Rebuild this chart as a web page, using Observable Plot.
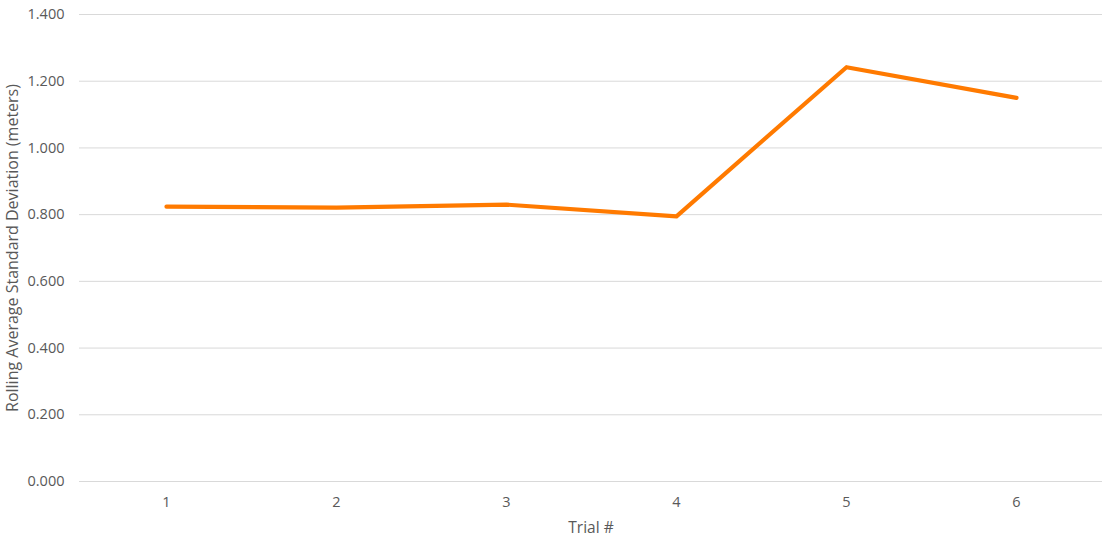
<!DOCTYPE html>
<html>
<head>
<meta charset="utf-8">
<script src="https://cdn.jsdelivr.net/npm/d3@7"></script>
<script src="https://cdn.jsdelivr.net/npm/@observablehq/plot@0.6"></script>
<style>
  html, body { margin: 0; padding: 0; background: #fff; }
  #chart svg { display: block; }
</style>
</head>
<body>
<div id="chart"></div>
<script>
const trials = [1, 2, 3, 4, 5, 6];
const values = [0.824, 0.821, 0.830, 0.795, 1.242, 1.150];
const yTicks = [0, 0.2, 0.4, 0.6, 0.8, 1.0, 1.2, 1.4];

const data = trials.map((t, i) => ({trial: String(t), value: values[i]}));

const chart = Plot.plot({
  width: 1111,
  height: 540,
  marginLeft: 79,
  marginRight: 9,
  marginTop: 14,
  marginBottom: 59,
  style: {fontFamily: "'Open Sans', sans-serif", fontSize: "14px", color: "#595959", background: "#fff"},
  x: {type: "point", domain: trials.map(String), padding: 0.5, label: null},
  y: {domain: [0, 1.4], label: null},
  marks: [
    Plot.gridY(yTicks, {stroke: "#d9d9d9", strokeOpacity: 1, strokeWidth: 1}),
    Plot.axisY(yTicks, {tickSize: 0, tickPadding: 15, tickFormat: d3.format(".3f"), fill: "#595959", fontSize: 14.5}),
    Plot.axisX({tickSize: 0, tickPadding: 15, fill: "#595959", fontSize: 14.5}),
    Plot.line(data, {x: "trial", y: "value", stroke: "#ff7a00", strokeWidth: 4.2, strokeLinejoin: "round", strokeLinecap: "round"}),
    Plot.text(["Trial #"], {frameAnchor: "bottom", dy: 51, fill: "#595959", fontSize: 15.5}),
    Plot.text(["Rolling Average Standard Deviation (meters)"], {frameAnchor: "left", dx: -67, rotate: -90, fill: "#595959", fontSize: 16, textAnchor: "middle"})
  ]
});
document.getElementById("chart").appendChild(chart);
</script>
</body>
</html>
